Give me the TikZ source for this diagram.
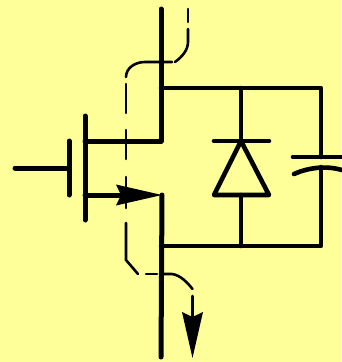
\documentclass[tikz,border=0pt]{standalone}
\usetikzlibrary{arrows.meta}
\definecolor{paper}{HTML}{FFFF99}
\tikzset{
    heavy/.style = {line width=5pt, line cap=round, line join=round},
    rail/.style = {line width=4.6pt, line cap=round, line join=round},
    flow/.style = {line width=2.6pt, line cap=round},
    bigtip/.style = {-{Stealth[length=46pt,width=21pt,inset=5pt,line width=0pt]}}
}
\begin{document}
\begin{tikzpicture}[x=1pt,y=-1pt]
    \fill[paper] (0,0) rectangle (341,362);
    \useasboundingbox (0,0) rectangle (341,362);
    % transistor
    \coordinate (DTOP) at (161,9);
    \coordinate (DRAIN) at (161,141);
    \coordinate (SRC) at (162,195);
    \coordinate (SBOT) at (161,357);
    \coordinate (CHD) at (85,141);
    \coordinate (CHS) at (85,195);
    \coordinate (CHT) at (85,116);
    \coordinate (CHB) at (85,220);
    \coordinate (GT) at (69,141);
    \coordinate (GB) at (69,195);
    \coordinate (GM) at (69,168);
    \coordinate (GIN) at (15,168);
    \draw[heavy] (DTOP) -- (DRAIN) -- (CHD);
    \draw[heavy] (CHT) -- (CHB);
    \draw[heavy] (GT) -- (GB);
    \draw[heavy] (GIN) -- (GM);
    \draw[heavy] (SRC) -- (SBOT);
    \draw[heavy,bigtip] (CHS) -- (SRC);
    % rails
    \coordinate (RTL) at (161,88);
    \coordinate (RTR) at (321,88);
    \coordinate (RBR) at (321,246);
    \coordinate (RBL) at (161,246);
    \coordinate (CTOP) at (321,157);
    \coordinate (CBOT) at (321,167);
    \draw[rail] (RTL) -- (RTR) -- (CTOP);
    \draw[rail] (CBOT) -- (RBR) -- (RBL);
    % diode
    \coordinate (DT) at (241,88);
    \coordinate (DK) at (241,141);
    \coordinate (DL) at (214,141);
    \coordinate (DR) at (269,141);
    \coordinate (AL) at (214,195);
    \coordinate (AR) at (269,195);
    \coordinate (AM) at (241,195);
    \coordinate (DB) at (241,246);
    \draw[rail] (DT) -- (DK);
    \draw[rail] (DL) -- (DR);
    \draw[rail] (DK) -- (AL) -- (AR) -- cycle;
    \draw[rail] (AM) -- (DB);
    % capacitor
    \coordinate (CL) at (293,157);
    \coordinate (CR) at (345,157);
    \coordinate (CAL) at (294,174);
    \coordinate (CAR) at (345,171);
    \draw[rail] (CL) -- (CR);
    \draw[rail] (CAL) .. controls (305,169) and (325,164) .. (CAR);
    % current path
    \coordinate (F1) at (188,9);
    \coordinate (F2) at (188,22);
    \coordinate (F3) at (188,29);
    \coordinate (F4) at (175,62);
    \coordinate (F5) at (172,62);
    \coordinate (F6) at (126,77);
    \coordinate (F7) at (126,84);
    \coordinate (F8) at (126,113);
    \coordinate (F9) at (126,130);
    \coordinate (F10) at (126,159);
    \coordinate (F11) at (126,177);
    \coordinate (F12) at (126,208);
    \coordinate (F13) at (126,223);
    \coordinate (F14) at (138,274);
    \coordinate (F15) at (146,274);
    \coordinate (F16) at (157,274);
    \coordinate (F17) at (160,274);
    \coordinate (F18) at (192.5,289);
    \coordinate (F19) at (192.5,296);
    \coordinate (F20) at (192.5,358);
    \draw[flow] (F1) -- (F2);
    \draw[flow] (F3) -- (188,42) .. controls (188,50) and (182,57) .. (F4);
    \draw[flow] (F5) -- (145,62) .. controls (135,62) and (126,68) .. (F6);
    \draw[flow] (F7) -- (F8);
    \draw[flow] (F9) -- (F10);
    \draw[flow] (F11) -- (F12);
    \draw[flow] (F13) -- (126,260) -- (F14);
    \draw[flow] (F15) -- (F16);
    \draw[flow] (F17) -- (172,274) .. controls (180,275) and (187,282) .. (F18);
    \draw[flow,bigtip] (F19) -- (F20);
\end{tikzpicture}
\end{document}
